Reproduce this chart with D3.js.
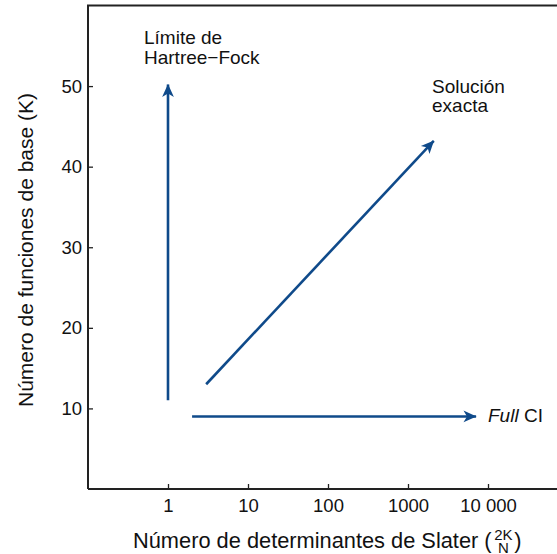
<!DOCTYPE html>
<html>
<head>
<meta charset="utf-8">
<script src="https://cdn.jsdelivr.net/npm/d3@7"></script>
<style>
  body { margin: 0; background: #fff; }
  svg { display: block; font-family: "Liberation Sans", Arial, sans-serif; }
</style>
</head>
<body>
<svg width="557" height="554"></svg>
<script>
// x ticks (log scale) and y ticks
var xTicks = [1, 10, 100, 1000, 10000];
var xTickLabels = ["1", "10", "100", "1000", "10 000"];
var yTicks = [10, 20, 30, 40, 50];

// arrows: [x, K] start and end
var arrowNames = ["hartreeFock", "exacta", "fullCI"];
var arrowStart = [[1, 11], [3, 13], [2, 9]];
var arrowEnd = [[1, 50.2], [2100, 43.2], [7100, 9]];

var blue = "#0f4a8a";
var axisColor = "#222";

var svg = d3.select("svg");

var x = d3.scaleLog().domain([0.1, 100000]).range([88, 568]);
var y = d3.scaleLinear().domain([0, 60]).range([489, 5.5]);

svg.append("defs").append("marker")
    .attr("id", "head")
    .attr("viewBox", "0 0 10 10")
    .attr("refX", 9.5).attr("refY", 5)
    .attr("markerWidth", 14).attr("markerHeight", 14)
    .attr("markerUnits", "userSpaceOnUse")
    .attr("orient", "auto")
    .append("path")
    .attr("d", "M0.5,0.8 L9.8,5 L0.5,9.2 L3,5 Z")
    .attr("fill", blue);

// frame: left, top, bottom (right edge runs off the page)
var frame = svg.append("g").attr("stroke", axisColor).attr("stroke-width", 2).attr("fill", "none");
frame.append("path").attr("d", "M" + x(0.1) + "," + y(0) + "V" + y(60) + "H" + 560);
frame.append("path").attr("d", "M" + x(0.1) + "," + y(0) + "H" + 560);

// x axis
var xAxis = svg.append("g")
    .attr("transform", "translate(0," + y(0) + ")")
    .call(d3.axisBottom(x).tickValues(xTicks)
        .tickFormat(function (d, i) { return xTickLabels[i]; })
        .tickSizeInner(-5).tickSizeOuter(0).tickPadding(10));
xAxis.select(".domain").remove();
xAxis.selectAll("line").attr("stroke", axisColor).attr("stroke-width", 1.3);
xAxis.selectAll("text").style("font-size", "18.5px").attr("fill", "#111")
    .style("font-family", "Liberation Sans, Arial, sans-serif");

// y axis
var yAxis = svg.append("g")
    .attr("transform", "translate(" + x(0.1) + ",0)")
    .call(d3.axisLeft(y).tickValues(yTicks)
        .tickSizeInner(-5).tickSizeOuter(0).tickPadding(6));
yAxis.select(".domain").remove();
yAxis.selectAll("line").attr("stroke", axisColor).attr("stroke-width", 1.3);
yAxis.selectAll("text").style("font-size", "18.5px").attr("fill", "#111")
    .style("font-family", "Liberation Sans, Arial, sans-serif");

// arrows
svg.selectAll(".arrow")
    .data(arrowNames)
    .enter().append("line")
    .attr("class", "arrow")
    .attr("x1", function (d, i) { return x(arrowStart[i][0]); })
    .attr("y1", function (d, i) { return y(arrowStart[i][1]); })
    .attr("x2", function (d, i) { return x(arrowEnd[i][0]); })
    .attr("y2", function (d, i) { return y(arrowEnd[i][1]); })
    .attr("stroke", blue)
    .attr("stroke-width", 2.6)
    .attr("marker-end", "url(#head)");

// annotations
var ann = svg.append("g").attr("font-size", 19).attr("fill", "#111");
ann.append("text").attr("x", 144).attr("y", 44).text("Límite de");
ann.append("text").attr("x", 144).attr("y", 63.5).text("Hartree\u2212Fock");
ann.append("text").attr("x", 432).attr("y", 93).text("Solución");
ann.append("text").attr("x", 432).attr("y", 112).text("exacta");
var full = ann.append("text").attr("x", 488).attr("y", 422);
full.append("tspan").attr("font-style", "italic").text("Full");
full.append("tspan").text(" CI");

// axis titles
svg.append("text")
    .attr("transform", "translate(33,250) rotate(-90)")
    .attr("text-anchor", "middle")
    .attr("font-size", 21).attr("fill", "#111")
    .text("Número de funciones de base (K)");

var xt = svg.append("text").attr("x", 133).attr("y", 548)
    .attr("font-size", 21.8).attr("fill", "#111");
xt.append("tspan").text("Número de determinantes de Slater (");
var xtBox = xt.node().getBBox();
var bx = xtBox.x + xtBox.width;
svg.append("text").attr("x", bx + 11).attr("y", 540).attr("text-anchor", "middle")
    .attr("font-size", 15).attr("fill", "#111").text("2K");
svg.append("text").attr("x", bx + 11).attr("y", 553).attr("text-anchor", "middle")
    .attr("font-size", 15).attr("fill", "#111").text("N");
svg.append("text").attr("x", bx + 22).attr("y", 548)
    .attr("font-size", 21.8).attr("fill", "#111").text(")");
</script>
</body>
</html>
